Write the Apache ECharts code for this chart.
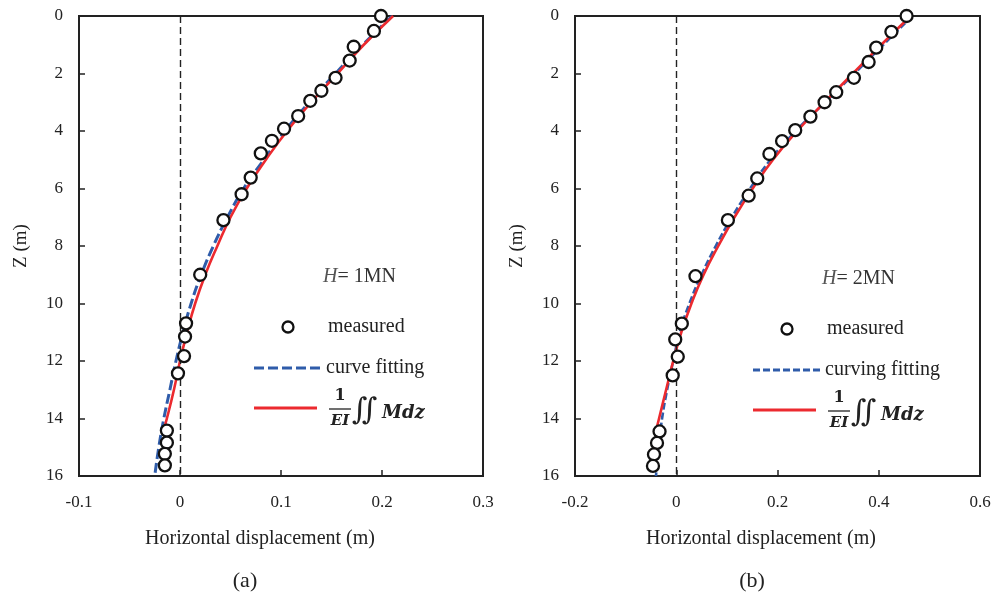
<!DOCTYPE html>
<html>
<head>
<meta charset="utf-8">
<script src="https://cdn.jsdelivr.net/npm/echarts@6/dist/echarts.min.js"></script>
<style>
html,body{margin:0;padding:0;background:#fff;}
#chart{width:998px;height:599px;}
</style>
</head>
<body>
<div id="chart"></div>
<script>
// (a) H = 1MN
var measuredA_x=[0.199,0.192,0.172,0.168,0.154,0.140,0.129,0.117,0.103,0.091,0.080,0.070,0.061,0.043,0.020,0.006,0.005,0.004,-0.002,-0.013,-0.013,-0.015,-0.015];
var measuredA_z=[0,0.52,1.07,1.55,2.15,2.6,2.95,3.48,3.92,4.34,4.78,5.62,6.2,7.1,9.0,10.69,11.15,11.83,12.43,14.42,14.84,15.23,15.63];
var fitA_z=[0,1,2,3,4,5,6,7,8,9,10,11,12,13,14,15,16];
var fitA_x=[0.210,0.181,0.154,0.128,0.104,0.083,0.063,0.047,0.033,0.021,0.011,0.003,-0.004,-0.010,-0.016,-0.021,-0.025];
var theoryA_z=[0,1,2,3,4,5,6,7,8,9,10,11,12,13,14,14.5];
var theoryA_x=[0.211,0.182,0.156,0.130,0.106,0.085,0.066,0.050,0.037,0.025,0.015,0.007,0.000,-0.006,-0.013,-0.017];

// (b) H = 2MN
var measuredB_x=[0.455,0.425,0.395,0.380,0.351,0.316,0.293,0.265,0.235,0.209,0.184,0.160,0.143,0.102,0.038,0.011,-0.002,0.003,-0.007,-0.033,-0.038,-0.044,-0.046];
var measuredB_z=[0,0.55,1.1,1.6,2.15,2.65,3.0,3.5,3.97,4.35,4.8,5.65,6.25,7.1,9.05,10.7,11.25,11.85,12.5,14.45,14.85,15.25,15.65];
var fitB_z=[0,1,2,3,4,5,6,7,8,9,10,11,12,13,14,15,16];
var fitB_x=[0.466,0.409,0.352,0.294,0.236,0.186,0.146,0.110,0.078,0.050,0.026,0.007,-0.006,-0.018,-0.028,-0.035,-0.040];
var theoryB_z=[0,1,2,3,4,5,6,7,8,9,10,11,12,13,14,14.5];
var theoryB_x=[0.463,0.405,0.349,0.293,0.239,0.191,0.151,0.115,0.083,0.054,0.030,0.010,-0.006,-0.020,-0.034,-0.041];

var yTicks=[0,2,4,6,8,10,12,14,16];

function pairs(xs,zs){
    return xs.map(function(v,i){return [v,zs[i]];});
}

var serif="Liberation Serif";
var blue="#2f5caa";
var red="#ec2a2f";

var chart=echarts.init(document.getElementById("chart"));

function xAx(idx,min,max,step,shift){
    return {
        type:"value",
        gridIndex:idx,
        min:min,
        max:max,
        interval:step,
        name:"Horizontal displacement (m)",
        nameLocation:"middle",
        nameGap:53,
        nameTextStyle:{color:"#222",fontFamily:serif,fontSize:20,padding:[0,shift,0,0]},
        axisLine:{onZero:false,lineStyle:{color:"#222",width:2}},
        axisTick:{inside:true,length:6,lineStyle:{color:"#222",width:1.5}},
        splitLine:{show:false},
        axisLabel:{
            color:"#222",fontFamily:serif,fontSize:17,margin:18,
            formatter:function(v){return String(+v.toFixed(1));}
        }
    };
}
function yAx(idx){
    return {
        type:"value",
        gridIndex:idx,
        inverse:true,
        min:yTicks[0],
        max:yTicks[yTicks.length-1],
        interval:yTicks[1]-yTicks[0],
        name:"Z (m)",
        nameLocation:"middle",
        nameGap:48,
        nameRotate:90,
        nameTextStyle:{color:"#222",fontFamily:serif,fontSize:19},
        axisLine:{onZero:false,lineStyle:{color:"#222",width:2}},
        axisTick:{inside:true,length:6,lineStyle:{color:"#222",width:1.5}},
        splitLine:{show:false},
        axisLabel:{color:"#222",fontFamily:serif,fontSize:17,margin:16}
    };
}

function measured(idx,data){
    return {
        type:"scatter",
        xAxisIndex:idx,
        yAxisIndex:idx,
        symbol:"circle",
        symbolSize:12,
        itemStyle:{color:"#fff",borderColor:"#111",borderWidth:2.3,opacity:1},
        z:5,
        data:data,
        markLine:{
            silent:true,
            symbol:"none",
            label:{show:false},
            lineStyle:{type:[7,4],color:"#222",width:1.4},
            data:[{xAxis:0}]
        }
    };
}
function curve(idx,data,color,dash,width){
    return {
        type:"line",
        xAxisIndex:idx,
        yAxisIndex:idx,
        smooth:true,
        showSymbol:false,
        z:3,
        lineStyle:{color:color,width:width,type:dash},
        data:data
    };
}

// legend block drawn by hand (the original has it inside the plot)
function legendBlock(x0,y0,hText,fitText,dash){
    return [
        {type:"text",left:x0+69,top:y0-12,style:{
            text:"{i|H}{n|= "+hText+"}",
            rich:{
                i:{fontFamily:serif,fontStyle:"italic",fontSize:20,fill:"#555"},
                n:{fontFamily:serif,fontSize:20,fill:"#333"}
            }}},
        {type:"circle",shape:{cx:x0+34,cy:y0+48,r:5.5},style:{fill:"#fff",stroke:"#111",lineWidth:2.3}},
        {type:"text",x:x0+74,y:y0+48,style:{text:"measured",font:"20px "+serif,fill:"#222",verticalAlign:"middle"}},
        {type:"line",shape:{x1:x0,y1:y0+89,x2:x0+69,y2:y0+89},style:{stroke:blue,lineWidth:3,lineDash:dash}},
        {type:"text",x:x0+72,y:y0+89,style:{text:fitText,font:"20px "+serif,fill:"#222",verticalAlign:"middle"}},
        {type:"line",shape:{x1:x0,y1:y0+129,x2:x0+63,y2:y0+129},style:{stroke:red,lineWidth:3}},
        {type:"text",x:x0+86,y:y0+117,style:{text:"1",font:"bold 16px DejaVu Serif",fill:"#222",align:"center",verticalAlign:"middle"}},
        {type:"line",shape:{x1:x0+75,y1:y0+130,x2:x0+97,y2:y0+130},style:{stroke:"#222",lineWidth:1.3}},
        {type:"text",x:x0+86,y:y0+142,style:{text:"EI",font:"italic bold 15px DejaVu Serif",fill:"#222",align:"center",verticalAlign:"middle"}},
        {type:"text",x:x0+98,y:y0+132,style:{text:"\u222C",font:"30px DejaVu Serif",fill:"#222",verticalAlign:"middle"}},
        {type:"text",x:x0+128,y:y0+134,style:{text:"Mdz",font:"italic bold 18px DejaVu Serif",fill:"#222",verticalAlign:"middle"}}
    ];
}

var option={
    animation:false,
    backgroundColor:"#fff",
    grid:[
        {left:79,top:16,width:404,height:460,show:true,borderColor:"#222",borderWidth:2},
        {left:575,top:16,width:405,height:460,show:true,borderColor:"#222",borderWidth:2}
    ],
    xAxis:[xAx(0,-0.1,0.3,0.1,42),xAx(1,-0.2,0.6,0.2,33)],
    yAxis:[yAx(0),yAx(1)],
    series:[
        curve(0,pairs(fitA_x,fitA_z),blue,[10,4],3),
        curve(0,pairs(theoryA_x,theoryA_z),red,"solid",2.6),
        measured(0,pairs(measuredA_x,measuredA_z)),
        curve(1,pairs(fitB_x,fitB_z),blue,[7,3],2.6),
        curve(1,pairs(theoryB_x,theoryB_z),red,"solid",2.6),
        measured(1,pairs(measuredB_x,measuredB_z))
    ],
    graphic:[].concat(
        legendBlock(254,279,"1MN","curve fitting",[10,4]),
        legendBlock(753,281,"2MN","curving fitting",[7,3]),
        [
            {type:"text",x:245,y:581,style:{text:"(a)",font:"22px "+serif,fill:"#222",align:"center",verticalAlign:"middle"}},
            {type:"text",x:752,y:581,style:{text:"(b)",font:"22px "+serif,fill:"#222",align:"center",verticalAlign:"middle"}}
        ]
    )
};
chart.setOption(option);
</script>
</body>
</html>
